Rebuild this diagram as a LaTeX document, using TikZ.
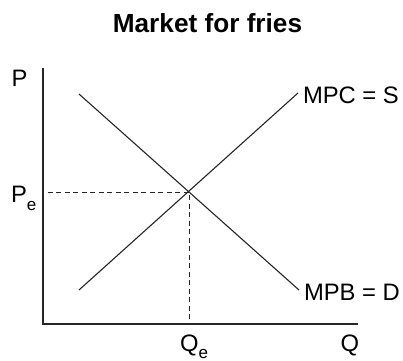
\documentclass[tikz,border=0pt]{standalone}
\usepackage{fontspec}
\setmainfont{Liberation Sans}
\begin{document}
\begin{tikzpicture}[x=1bp,y=-1bp,
  lbl/.style={inner sep=0pt,outer sep=0pt,font=\fontsize{23.8bp}{28bp}\selectfont},
  ttl/.style={inner sep=0pt,outer sep=0pt,font=\fontsize{26.2bp}{30bp}\selectfont\bfseries},
  axis/.style={line width=1.2bp,black!85},
  curve/.style={line width=1.1bp,black!85},
  guide/.style={line width=1bp,black!85,dash pattern=on 5bp off 3.5bp,dash phase=4bp}]
\useasboundingbox (0,0) rectangle (403,361);
% coordinates
\coordinate (top) at (43,68);
\coordinate (O) at (43,324);
\coordinate (right) at (358,324);
\coordinate (s1) at (79,290);
\coordinate (s2) at (298,93);
\coordinate (d1) at (79,94);
\coordinate (d2) at (299,290);
\coordinate (E) at (189,192);
\coordinate (Py) at (43,192);
\coordinate (Qx) at (189,324);
% title
\node[ttl,anchor=base] (title) at (207.5,32) {Market for fries};
% axes
\draw[axis] (top) -- (O) -- (right);
% curves
\draw[curve] (s1) -- (s2);
\draw[curve] (d1) -- (d2);
% guides
\draw[guide] (Py) -- (E) -- (Qx);
% labels
\node[lbl,anchor=base] (P) at (19.5,86) {P};
\node[lbl,anchor=base] (Q) at (350,351) {Q};
\node[lbl,anchor=base west] (Pe) at (11,202) {P\raisebox{-8bp}{\fontsize{17bp}{20bp}\selectfont e}};
\node[lbl,anchor=base west] (Qe) at (180,351) {Q\raisebox{-7bp}{\fontsize{17bp}{20bp}\selectfont e}};
\node[lbl,anchor=base west] (mpc) at (303,103) {MPC = S};
\node[lbl,anchor=base west] (mpb) at (304,300) {MPB = D};
\end{tikzpicture}
\end{document}
